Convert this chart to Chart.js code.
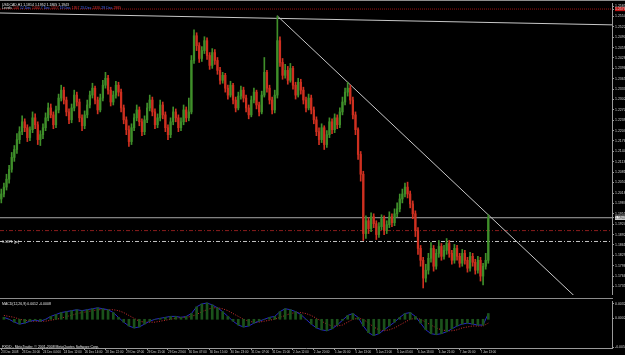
<!DOCTYPE html>
<html>
<head>
<meta charset="utf-8">
<script src="https://cdn.jsdelivr.net/npm/chart.js@4.4.1/dist/chart.umd.min.js"></script>
<style>
  body { margin: 0; background: #000; width: 625px; height: 355px; overflow: hidden; position: relative; font-family: "Liberation Sans", Arial, sans-serif; }
  canvas { position: absolute; left: 0; }
  #main { top: 0; }
  #macd { top: 298px; }
  .txt { position: absolute; white-space: nowrap; font-size: 7px; line-height: 7px; transform: scale(0.5, 0.6); transform-origin: 0 0; color: #e6e6e6; }
  .frame { position: absolute; left: 0; height: 1px; background: #8c8c8c; }
</style>
</head>
<body>
<div class="frame" style="top:0;width:625px"></div>
<canvas id="main" width="625" height="298"></canvas>
<canvas id="macd" width="625" height="57"></canvas>
<div class="frame" style="top:298px;width:613px"></div>

<div class="txt" style="left:2px;top:2px">USDCAD,H1 1.1814 1.1952 1.1805 1.1943</div>
<div class="txt" style="left:2px;top:5px">Levels <span style="color:#e03030">100</span> <span style="color:#4a6cff">12 Dec</span> <span style="color:#e03030">1300</span> <span style="color:#4a6cff">7 Dec</span> <span style="color:#e03030">1377</span> <span style="color:#4a6cff">19 Dec</span> <span style="color:#e03030">1957</span> <span style="color:#4a6cff">25 Dec</span> <span style="color:#e03030">2495</span> <span style="color:#4a6cff">29 Dec</span> <span style="color:#e03030">2985</span></div>
<div class="txt" style="left:2px;top:239px">1.1871 [pc]</div>
<div class="txt" style="left:2px;top:301px">MACD(12,26,9) 0.0012 -0.0008</div>
<div class="txt" style="left:2px;top:344px">FXDD - MetaTrader, © 2001-2008 MetaQuotes Software Corp.</div>

<script>
// USDCAD H1, 23 Dec 2008 - 7 Jan 2009
const firstOpen = 1.2000;
const closes = [
  1.2015,1.2036,1.2060,1.2090,1.2126,1.2150,1.2180,1.2204,1.2234,1.2216,1.2186,1.2210,1.2246,1.2225,1.2180,1.2195,
  1.2216,1.2246,1.2276,1.2255,1.2225,1.2270,1.2306,1.2330,1.2300,1.2264,1.2240,1.2276,1.2315,1.2294,1.2246,1.2222,1.2255,
  1.2285,1.2315,1.2336,1.2300,1.2270,1.2306,1.2345,1.2366,1.2330,1.2294,1.2315,1.2345,1.2324,1.2276,1.2240,1.2210,
  1.2174,1.2216,1.2246,1.2270,1.2234,1.2204,1.2240,1.2276,1.2300,1.2264,1.2225,1.2246,1.2285,1.2255,1.2216,1.2195,1.2234,1.2264,1.2246,1.2216,1.2234,1.2270,1.2246,1.2264,
  1.2420,1.2495,1.2465,1.2426,1.2450,1.2480,1.2435,1.2405,1.2444,1.2420,
  1.2390,1.2360,1.2375,1.2336,1.2315,1.2345,1.2300,1.2276,1.2312,1.2330,
  1.2306,1.2276,1.2255,1.2300,1.2324,1.2285,1.2264,1.2315,1.2384,1.2336,1.2300,1.2270,
  1.2315,1.2480,1.2414,1.2375,
  1.2390,1.2360,1.2396,1.2345,1.2315,1.2354,1.2330,1.2300,1.2276,1.2306,
  1.2270,1.2240,1.2204,1.2180,1.2216,1.2165,1.2195,1.2234,1.2210,1.2246,1.2225,1.2264,
  1.2294,1.2324,1.2336,1.2300,1.2255,
  1.2210,1.2135,1.2075,1.1895,
  1.1934,1.1910,1.1946,1.1925,1.1892,1.1916,1.1940,1.1904,1.1922,1.1946,1.1928,1.1955,
  1.1970,1.2000,1.2015,1.2036,1.2015,1.1985,
  1.1955,1.1904,1.1850,1.1814,1.1760,1.1784,
  1.1820,1.1850,1.1796,1.1835,1.1856,1.1826,1.1844,1.1865,1.1835,1.1814,1.1850,1.1826,1.1805,1.1835,1.1814,1.1790,1.1826,1.1808,1.1784,1.1814,1.1766,1.1796,1.1814,1.1943
];
const highs = [
  1.2030,1.2048,1.2075,1.2102,1.2141,1.2162,1.2198,1.2219,1.2252,1.2243,1.2225,1.2219,1.2264,1.2258,1.2234,1.2207,
  1.2228,1.2261,1.2291,1.2288,1.2264,1.2282,1.2318,1.2345,1.2339,1.2309,1.2273,1.2288,1.2330,1.2324,1.2303,1.2255,1.2267,
  1.2300,1.2327,1.2351,1.2342,1.2309,1.2318,1.2360,1.2384,1.2375,1.2339,1.2327,1.2357,1.2354,1.2333,1.2285,1.2249,
  1.2222,1.2228,1.2258,1.2285,1.2279,1.2243,1.2252,1.2291,1.2315,1.2309,1.2273,1.2258,1.2300,1.2294,1.2264,1.2225,1.2246,1.2279,1.2273,1.2255,1.2246,1.2285,1.2279,1.2306,
  1.2435,1.2513,1.2504,1.2474,1.2462,1.2492,1.2489,1.2444,1.2456,1.2453,
  1.2429,1.2399,1.2384,1.2381,1.2345,1.2357,1.2351,1.2309,1.2324,1.2342,
  1.2339,1.2315,1.2285,1.2312,1.2336,1.2330,1.2294,1.2327,1.2429,1.2390,1.2345,1.2309,
  1.2330,1.2555,1.2492,1.2426,
  1.2408,1.2402,1.2411,1.2402,1.2354,1.2366,1.2363,1.2339,1.2309,1.2318,
  1.2315,1.2279,1.2249,1.2216,1.2228,1.2222,1.2207,1.2246,1.2243,1.2258,1.2255,1.2276,
  1.2309,1.2336,1.2354,1.2345,1.2309,
  1.2264,1.2216,1.2144,1.2084,
  1.1949,1.1943,1.1958,1.1955,1.1934,1.1928,1.1952,1.1949,1.1934,1.1961,1.1955,1.1970,
  1.1988,1.2015,1.2030,1.2048,1.2051,1.2024,
  1.1994,1.1964,1.1913,1.1859,1.1823,1.1802,
  1.1835,1.1868,1.1859,1.1847,1.1874,1.1865,1.1859,1.1880,1.1874,1.1844,1.1862,1.1859,1.1835,1.1847,1.1844,1.1823,1.1838,1.1835,1.1817,1.1826,1.1823,1.1805,1.1835,1.1952
];
const lows = [
  1.1988,1.2006,1.2027,1.2048,1.2081,1.2114,1.2138,1.2168,1.2195,1.2204,1.2174,1.2177,1.2201,1.2213,1.2165,1.2162,
  1.2183,1.2207,1.2237,1.2246,1.2213,1.2216,1.2261,1.2297,1.2288,1.2252,1.2228,1.2231,1.2267,1.2282,1.2234,1.2207,1.2213,
  1.2246,1.2276,1.2306,1.2288,1.2258,1.2264,1.2297,1.2336,1.2318,1.2282,1.2285,1.2306,1.2312,1.2264,1.2228,1.2195,
  1.2159,1.2165,1.2207,1.2237,1.2222,1.2192,1.2195,1.2231,1.2267,1.2252,1.2213,1.2216,1.2237,1.2243,1.2204,1.2180,1.2186,1.2225,1.2234,1.2204,1.2207,1.2225,1.2234,1.2237,
  1.2258,1.2411,1.2450,1.2414,1.2417,1.2441,1.2423,1.2393,1.2396,1.2408,
  1.2378,1.2348,1.2351,1.2324,1.2303,1.2309,1.2288,1.2264,1.2270,1.2303,
  1.2294,1.2264,1.2243,1.2249,1.2291,1.2273,1.2252,1.2258,1.2309,1.2324,1.2288,1.2258,
  1.2261,1.2306,1.2402,1.2363,
  1.2366,1.2348,1.2354,1.2333,1.2303,1.2309,1.2318,1.2288,1.2264,1.2270,
  1.2258,1.2228,1.2192,1.2165,1.2171,1.2150,1.2156,1.2186,1.2198,1.2201,1.2213,1.2216,
  1.2255,1.2285,1.2312,1.2288,1.2243,
  1.2195,1.2120,1.2054,1.1874,
  1.1880,1.1895,1.1901,1.1913,1.1877,1.1883,1.1907,1.1892,1.1895,1.1913,1.1916,1.1919,
  1.1946,1.1961,1.1988,1.2006,1.2003,1.1973,
  1.1940,1.1886,1.1832,1.1796,1.1730,1.1748,
  1.1772,1.1808,1.1781,1.1787,1.1823,1.1814,1.1817,1.1832,1.1823,1.1802,1.1805,1.1814,1.1793,1.1796,1.1802,1.1778,1.1781,1.1796,1.1772,1.1775,1.1751,1.1739,1.1787,1.1805
];

// MACD(12,26,9), one value per two bars (bar 1, 3, 5 ...)
const macdMain = [
  0.0004,0.0000,-0.0006,-0.0010,-0.0008,-0.0004,-0.0002,-0.0004,0.0000,0.0006,
  0.0010,0.0014,0.0016,0.0018,0.0020,0.0018,0.0020,0.0022,0.0024,0.0022,
  0.0020,0.0014,0.0004,-0.0006,-0.0014,-0.0018,-0.0016,-0.0010,-0.0004,0.0000,
  0.0002,0.0004,0.0006,0.0006,0.0004,0.0006,0.0012,0.0026,0.0032,0.0034,
  0.0030,0.0024,0.0016,0.0006,-0.0004,-0.0012,-0.0016,-0.0014,-0.0008,-0.0004,
  0.0000,0.0004,0.0006,0.0016,0.0022,0.0020,0.0016,0.0010,0.0000,-0.0010,
  -0.0018,-0.0022,-0.0024,-0.0020,-0.0012,-0.0002,0.0008,0.0012,0.0004,-0.0014,
  -0.0028,-0.0034,-0.0030,-0.0022,-0.0014,-0.0006,0.0004,0.0012,0.0014,0.0006,
  -0.0008,-0.0022,-0.0030,-0.0032,-0.0030,-0.0026,-0.0020,-0.0014,-0.0010,-0.0008,
  -0.0010,-0.0012,-0.0012,0.0012
];
const macdSignal = [
  0.0008,0.0006,0.0004,0.0000,-0.0002,-0.0004,-0.0004,-0.0004,-0.0004,-0.0002,
  0.0000,0.0002,0.0006,0.0008,0.0012,0.0014,0.0016,0.0018,0.0020,0.0020,
  0.0020,0.0020,0.0018,0.0014,0.0008,0.0002,-0.0004,-0.0006,-0.0006,-0.0006,
  -0.0004,-0.0002,0.0000,0.0002,0.0004,0.0004,0.0006,0.0010,0.0016,0.0020,
  0.0024,0.0024,0.0022,0.0018,0.0012,0.0006,0.0000,-0.0004,-0.0006,-0.0006,
  -0.0004,-0.0002,0.0000,0.0004,0.0008,0.0012,0.0014,0.0014,0.0012,0.0008,
  0.0002,-0.0004,-0.0010,-0.0014,-0.0014,-0.0012,-0.0006,0.0000,0.0002,0.0000,
  -0.0008,-0.0016,-0.0022,-0.0024,-0.0022,-0.0018,-0.0012,-0.0006,0.0000,0.0002,
  0.0000,-0.0006,-0.0012,-0.0018,-0.0022,-0.0024,-0.0024,-0.0022,-0.0018,-0.0016,
  -0.0014,-0.0014,-0.0014,-0.0008
];

// objects on the chart (bar index, price)
const trendTop = [[-0.5, 1.2564], [234.5, 1.2528]];
const trendDown = [[106, 1.2555], [220, 1.1706]];
const levelTop = 1.2576;
const levelRed = 1.1904;
const levelGray = 1.1871;

const priceTicks = [1.2585,1.2554,1.2522,1.2490,1.2459,1.2428,1.2396,1.2365,1.2333,1.2302,1.2270,1.2239,1.2207,1.2176,
  1.2144,1.2113,1.2081,1.2050,1.2018,1.1987,1.1955,1.1924,1.1892,1.1861,1.1829,1.1798,1.1766,1.1735];
const macdTicks = [0.0032, 0.0002, -0.0058];
const timeTicks = ['23 Dec 2008','23 Dec 20:00','24 Dec 04:00','24 Dec 12:00','26 Dec 14:00','28 Dec 22:00',
  '29 Dec 07:00','29 Dec 15:00','29 Dec 23:00','30 Dec 07:00','30 Dec 15:00','30 Dec 23:00','31 Dec 07:00',
  '31 Dec 15:00','2 Jan 12:00','2 Jan 20:00','5 Jan 05:00','5 Jan 13:00','5 Jan 21:00','6 Jan 05:00',
  '6 Jan 13:00','6 Jan 21:00','7 Jan 05:00','7 Jan 13:00'];

const slots = 235; // bar slots across the window, chart shifted left
const bid = closes[closes.length - 1];
const opens = [firstOpen].concat(closes.slice(0, -1));
const upCol = '#3f8f2a';
const dnCol = '#cf3020';
const barCols = closes.map((c, i) => c >= opens[i] ? upCol : dnCol);
const axisCol = '#9a9a9a';
const tickFont = { family: 'Liberation Sans', size: 3.5 };

function seg(pts) { return pts.map(p => ({ x: p[0], y: p[1] })); }
function flat(v) { return [{ x: -0.5, y: v }, { x: slots - 0.5, y: v }]; }
function lineSet(data, color, dash) {
  return { type: 'line', data: data, borderColor: color, borderWidth: 1, borderDash: dash || [],
    pointRadius: 0, fill: false, tension: 0 };
}

new Chart(document.getElementById('main'), {
  data: {
    datasets: [
      { type: 'bar', data: lows.map((l, i) => ({ x: i, y: [l, highs[i]] })), backgroundColor: barCols,
        barThickness: 1, grouped: false },
      { type: 'bar', data: closes.map((c, i) => ({ x: i, y: [opens[i], c] })), backgroundColor: barCols,
        barThickness: 1.6, grouped: false },
      lineSet(seg(trendTop), '#c8c8c8'),
      lineSet(seg(trendDown), '#c8c8c8'),
      lineSet(flat(bid), '#a8a8a8'),
      lineSet(flat(levelRed), '#8c1c1c', [4, 2, 1, 2]),
      lineSet(flat(levelGray), '#c4c4c4', [4, 2, 1, 2]),
      lineSet(flat(levelTop), '#9a1414', [1, 1])
    ]
  },
  options: {
    responsive: false,
    animation: false,
    devicePixelRatio: 1,
    layout: { padding: { top: 2, bottom: 1, left: 0, right: 0 } },
    plugins: { legend: { display: false }, tooltip: { enabled: false } },
    scales: {
      x: { type: 'linear', offset: false, min: -0.5, max: slots - 0.5, display: false },
      y: {
        position: 'right', min: 1.1709, max: 1.2594,
        afterFit(s) { s.width = 13; },
        afterBuildTicks(s) {
          s.ticks = priceTicks.concat([bid, levelTop]).sort((a, b) => a - b).map(v => ({ value: v }));
        },
        ticks: {
          autoSkip: false, font: tickFont, padding: 1,
          callback: v => v.toFixed(4),
          color: c => c.tick.value === bid ? '#000' : '#d0d0d0',
          showLabelBackdrop: c => c.tick.value === bid || c.tick.value === levelTop,
          backdropColor: c => c.tick.value === bid ? '#e8e8e8' : '#c01818',
          backdropPadding: { top: 0, bottom: 0, left: 0, right: 2 }
        },
        grid: { drawOnChartArea: false, tickLength: 2, color: axisCol },
        border: { color: axisCol }
      }
    }
  }
});

new Chart(document.getElementById('macd'), {
  data: {
    datasets: [
      { type: 'bar', data: macdMain.map((v, k) => ({ x: 2 * k + 1, y: v })), backgroundColor: '#1b521b',
        barThickness: 2 },
      lineSet(macdMain.map((v, k) => ({ x: 2 * k + 1, y: v })), '#2626c8'),
      lineSet(macdSignal.map((v, k) => ({ x: 2 * k + 1, y: v })), '#d03030', [1, 1.5])
    ]
  },
  options: {
    responsive: false,
    animation: false,
    devicePixelRatio: 1,
    layout: { padding: { top: 1, bottom: 0, left: 0, right: 0 } },
    plugins: { legend: { display: false }, tooltip: { enabled: false } },
    scales: {
      x: {
        type: 'linear', offset: false, min: -0.5, max: slots - 0.5,
        afterFit(s) { s.height = 7; },
        afterBuildTicks(s) { s.ticks = timeTicks.map((t, k) => ({ value: 8 * k })); },
        ticks: {
          autoSkip: false, maxRotation: 0, align: 'start', padding: 0,
          font: { family: 'Liberation Sans', size: 3 }, color: '#d0d0d0',
          callback: v => timeTicks[v / 8]
        },
        grid: { drawOnChartArea: false, offset: false, tickLength: 2, color: axisCol },
        border: { color: axisCol }
      },
      y: {
        position: 'right', min: -0.0060, max: 0.0038,
        afterFit(s) { s.width = 13; },
        afterBuildTicks(s) { s.ticks = macdTicks.map(v => ({ value: v })); },
        ticks: { autoSkip: false, font: tickFont, padding: 1, color: '#d0d0d0', callback: v => v.toFixed(4) },
        grid: { drawOnChartArea: false, tickLength: 2, color: axisCol },
        border: { color: axisCol }
      }
    }
  }
});
</script>
</body>
</html>
